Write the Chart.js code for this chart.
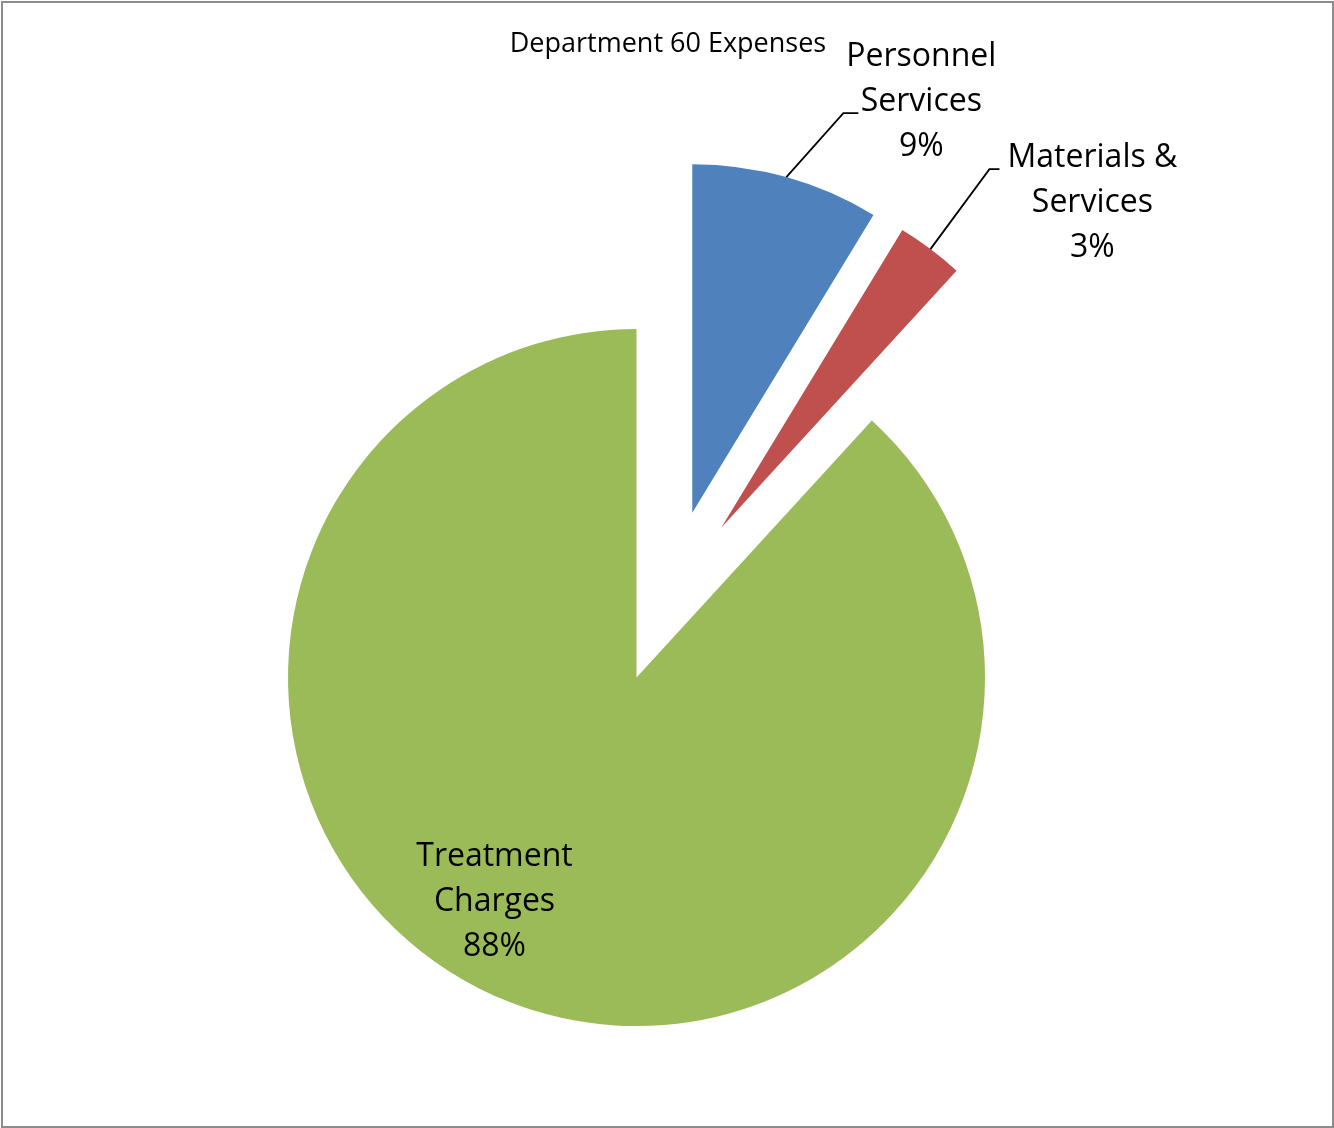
<!DOCTYPE html>
<html lang="en">
<head>
  <meta charset="UTF-8">
  <title>Department 60 Expenses</title>
  <script src="https://cdn.jsdelivr.net/npm/chart.js"></script>
  <style>
    body { margin: 0; background: #fff; }
  </style>
</head>
<body>
  <canvas id="chart_div" width="1334" height="1128"></canvas>
  <script>
    // data
    const chartTitle = 'Department 60 Expenses';
    const categories = [['Personnel', 'Services'], ['Materials &', 'Services'], ['Treatment', 'Charges']];
    const values = [8.7, 3.1, 88.2];

    // styling
    const colors = ['#4f81bd', '#c0504d', '#9bbb59'];
    // exploded slices: distance in px and direction (deg, clockwise from 12 o'clock)
    const explode = [{ dist: 174, dir: 18.7 }, { dist: 172, dir: 29.5 }, null];
    const labelLayout = [
      { leader: [57, -64], dash: 15, textDx: 78, baseDy: -47 },
      { leader: [59, -80], dash: 10, textDx: 103, baseDy: -2 },
      { inside: [-142, 188] }
    ];
    const labelFont = '32px "Open Sans"';
    const lineStep = 45;

    function shiftOf(i) {
      const e = explode[i];
      if (!e) return [0, 0];
      const a = e.dir * Math.PI / 180;
      return [Math.sin(a) * e.dist, -Math.cos(a) * e.dist];
    }

    const explodePlugin = {
      id: 'explodeSlices',
      beforeDatasetDraw(chart, args) {
        const ctx = chart.ctx;
        args.meta.data.forEach((arc, i) => {
          const [sx, sy] = shiftOf(i);
          ctx.save();
          ctx.translate(sx, sy);
          arc.draw(ctx);
          ctx.restore();
        });
        return false;
      }
    };

    const labelsPlugin = {
      id: 'sliceLabels',
      afterDraw(chart) {
        const ctx = chart.ctx;
        const arcs = chart.getDatasetMeta(0).data;
        const total = values.reduce((s, v) => s + v, 0);
        ctx.save();

        // frame
        ctx.strokeStyle = '#8c8c8c';
        ctx.lineWidth = 2;
        ctx.strokeRect(2, 2, 1331, 1125);

        ctx.fillStyle = '#000';
        ctx.textAlign = 'center';
        ctx.textBaseline = 'alphabetic';
        ctx.font = '27px "Open Sans"';
        ctx.fillText(chartTitle, 668, 52);

        ctx.font = labelFont;
        ctx.strokeStyle = '#000';
        ctx.lineWidth = 1.8;
        arcs.forEach((arc, i) => {
          const { x, y, startAngle, endAngle, outerRadius } = arc.getProps(['x', 'y', 'startAngle', 'endAngle', 'outerRadius'], true);
          const [sx, sy] = shiftOf(i);
          const lines = categories[i].concat([Math.round(values[i] / total * 100) + '%']);
          const lay = labelLayout[i];
          let cx, by;
          if (lay.inside) {
            cx = x + lay.inside[0];
            by = y + lay.inside[1];
          } else {
            const mid = (startAngle + endAngle) / 2;
            const ax = x + sx + Math.cos(mid) * outerRadius;
            const ay = y + sy + Math.sin(mid) * outerRadius;
            const ex = ax + lay.leader[0];
            const ey = ay + lay.leader[1];
            ctx.beginPath();
            ctx.moveTo(ax, ay);
            ctx.lineTo(ex, ey);
            ctx.lineTo(ex + lay.dash, ey);
            ctx.stroke();
            cx = ex + lay.textDx;
            by = ey + lay.baseDy;
          }
          lines.forEach((t, k) => ctx.fillText(t, cx, by + k * lineStep));
        });
        ctx.restore();
      }
    };

    new Chart(document.getElementById('chart_div'), {
      type: 'pie',
      data: {
        labels: categories.map(c => c.join(' ')),
        datasets: [{
          data: values,
          backgroundColor: colors,
          borderWidth: 0
        }]
      },
      options: {
        responsive: false,
        animation: false,
        events: [],
        layout: { padding: { top: 329, bottom: 102, left: 0, right: 61 } },
        plugins: {
          legend: { display: false },
          tooltip: { enabled: false },
          title: { display: false }
        }
      },
      plugins: [explodePlugin, labelsPlugin]
    });
  </script>
</body>
</html>
